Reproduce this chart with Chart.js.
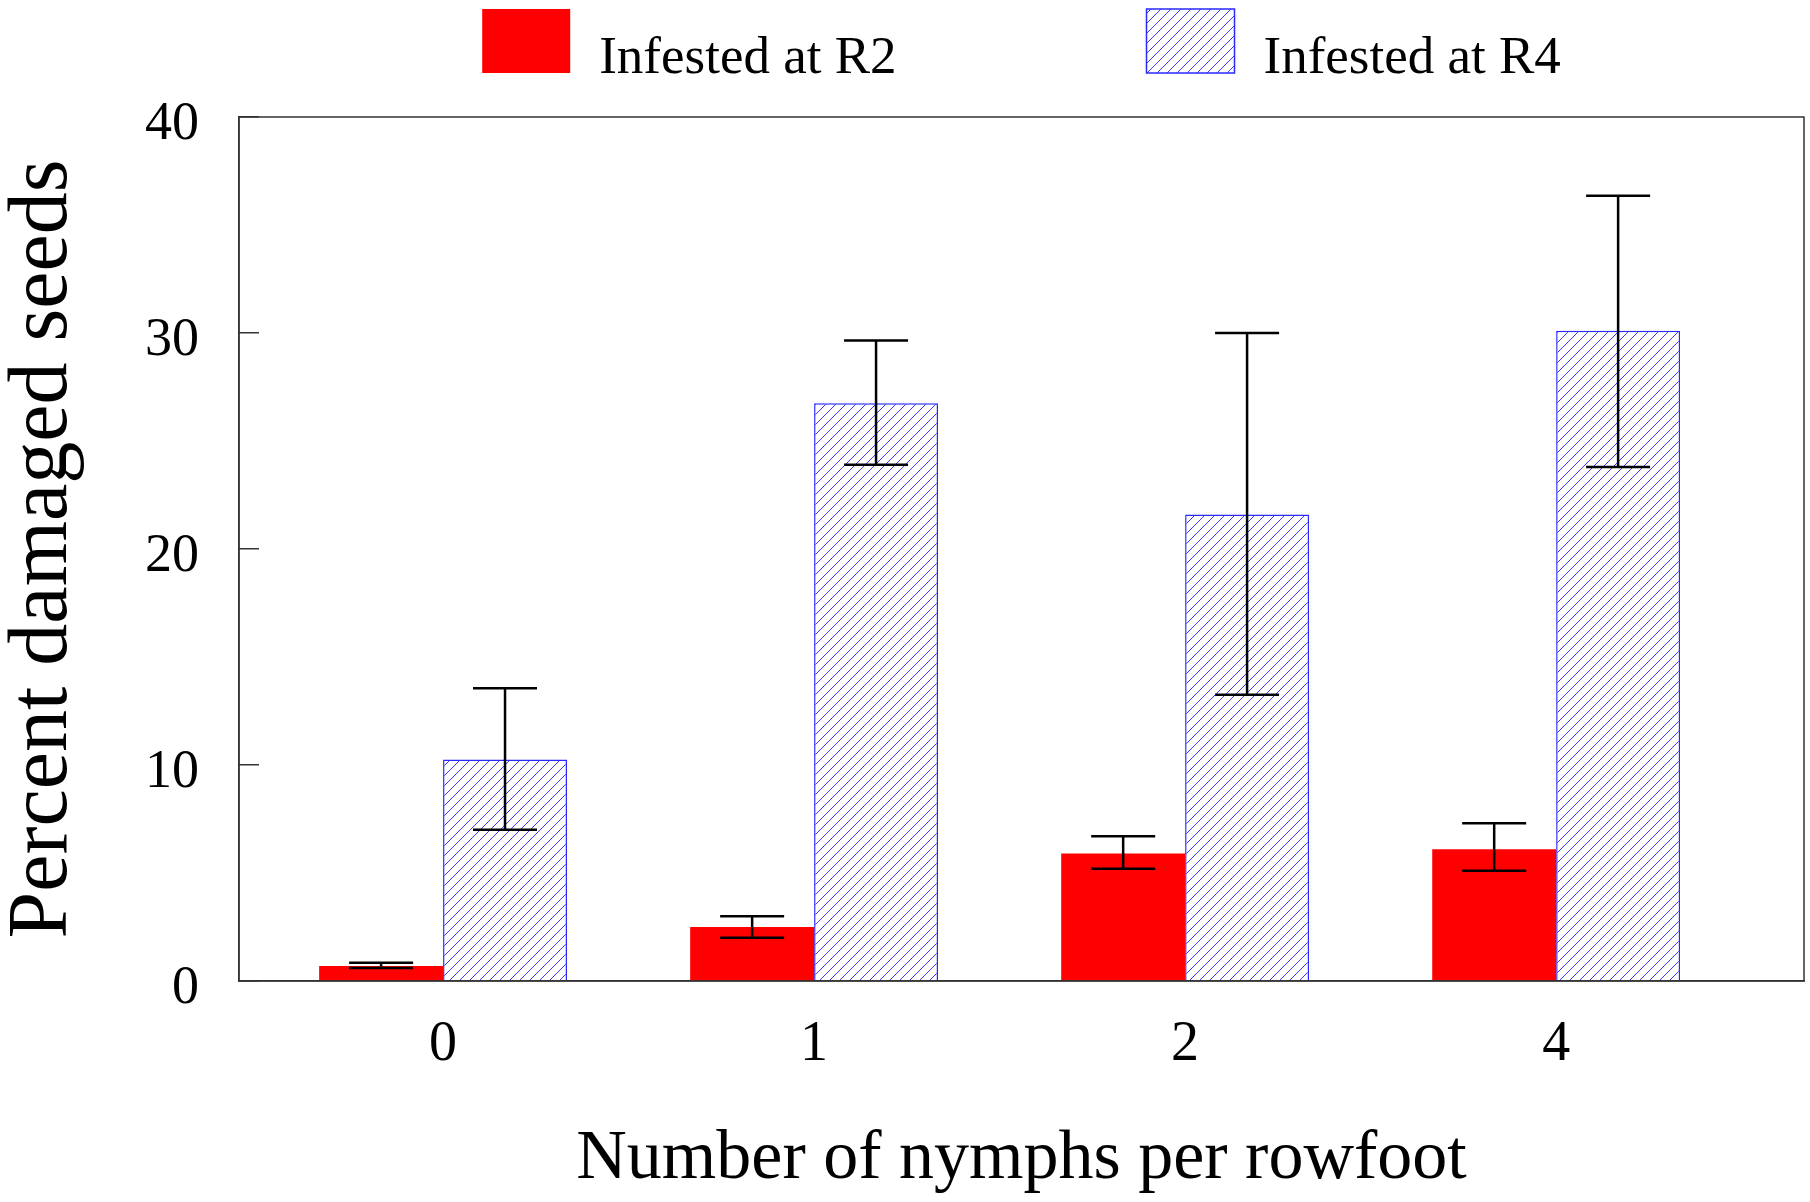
<!DOCTYPE html>
<html>
<head>
<meta charset="utf-8">
<script src="https://cdn.jsdelivr.net/npm/chart.js@4.4.1/dist/chart.umd.min.js"></script>
<style>
  html, body { margin: 0; padding: 0; background: #fff; }
  canvas { display: block; }
</style>
</head>
<body>
<canvas id="chart" width="1810" height="1202" style="width:1810px;height:1202px"></canvas>
<script>
const categories = ['0', '1', '2', '4'];
const r2Values = [0.7, 2.5, 5.9, 6.1];
const r2Low = [0.6, 2.0, 5.2, 5.1];
const r2High = [0.85, 3.0, 6.7, 7.3];
const r4Values = [10.25, 26.75, 21.6, 30.1];
const r4Low = [7.0, 23.9, 13.25, 23.8];
const r4High = [13.55, 29.65, 30.0, 36.35];
const yTicks = [0, 10, 20, 30, 40];

const serif = '"Liberation Serif", "Times New Roman", serif';
const axisColor = '#333';

function makeHatch(color) {
  const c = document.createElement('canvas');
  c.width = 10; c.height = 10;
  const g = c.getContext('2d');
  g.fillStyle = '#fff';
  g.fillRect(0, 0, 10, 10);
  g.strokeStyle = color;
  g.lineWidth = 1;
  g.beginPath();
  g.moveTo(0, 10); g.lineTo(10, 0);
  g.moveTo(-1, 1); g.lineTo(1, -1);
  g.moveTo(9, 11); g.lineTo(11, 9);
  g.stroke();
  return g.createPattern(c, 'repeat');
}

const errors = [[r2Low, r2High], [r4Low, r4High]];

const errorBars = {
  id: 'errorBars',
  afterDatasetsDraw(chart) {
    const { ctx } = chart;
    const y = chart.scales.y;
    ctx.save();
    ctx.strokeStyle = '#000';
    ctx.lineWidth = 2.5;
    errors.forEach(([low, high], d) => {
      chart.getDatasetMeta(d).data.forEach((bar, i) => {
        const top = y.getPixelForValue(high[i]);
        const bot = y.getPixelForValue(low[i]);
        ctx.beginPath();
        ctx.moveTo(bar.x, top); ctx.lineTo(bar.x, bot);
        ctx.moveTo(bar.x - 32, top); ctx.lineTo(bar.x + 32, top);
        ctx.moveTo(bar.x - 32, bot); ctx.lineTo(bar.x + 32, bot);
        ctx.stroke();
      });
    });
    ctx.restore();
  }
};

const frameAndLegend = {
  id: 'frameAndLegend',
  afterDraw(chart) {
    const { ctx, chartArea: a } = chart;
    ctx.save();
    ctx.strokeStyle = axisColor;
    ctx.lineWidth = 1.5;
    ctx.strokeRect(a.left, a.top, a.right - a.left, a.bottom - a.top);

    // legend across the top, centred over the plot
    ctx.font = '53px ' + serif;
    const boxW = 88, boxH = 64, textGap = 29, itemGap = 250;
    const items = chart.data.datasets.map(ds => ({
      ds, w: boxW + textGap + ctx.measureText(ds.label).width
    }));
    const total = items.reduce((s, it) => s + it.w, 0) + itemGap * (items.length - 1);
    let x = (a.left + a.right) / 2 - total / 2;
    const top = 9;
    items.forEach(({ ds, w }) => {
      ctx.fillStyle = ds.backgroundColor;
      ctx.fillRect(x, top, boxW, boxH);
      if (ds.borderWidth) {
        ctx.strokeStyle = ds.borderColor;
        ctx.lineWidth = 1.5;
        ctx.strokeRect(x, top, boxW, boxH);
      }
      ctx.fillStyle = '#000';
      ctx.textBaseline = 'alphabetic';
      ctx.textAlign = 'left';
      ctx.fillText(ds.label, x + boxW + textGap, top + boxH);
      x += w + itemGap;
    });
    ctx.restore();
  }
};

const ctx = document.getElementById('chart').getContext('2d');
const hatch = makeHatch('#3a3aff');

new Chart(ctx, {
  type: 'bar',
  data: {
    datasets: [
      {
        label: 'Infested at R2',
        data: r2Values.map((v, i) => ({ x: i, y: v })),
        backgroundColor: '#ff0000',
        borderWidth: 0
      },
      {
        label: 'Infested at R4',
        data: r4Values.map((v, i) => ({ x: i, y: v })),
        backgroundColor: hatch,
        borderColor: '#2a2aff',
        borderWidth: 1.5
      }
    ]
  },
  options: {
    responsive: false,
    animation: false,
    categoryPercentage: 0.668,
    barPercentage: 1.0,
    layout: { padding: { top: 117, right: 6, left: 0, bottom: 0 } },
    plugins: {
      legend: { display: false },
      tooltip: { enabled: false }
    },
    scales: {
      x: {
        type: 'linear',
        offset: false,
        min: -0.55,
        max: 3.668,
        afterBuildTicks: s => { s.ticks = categories.map((c, i) => ({ value: i })); },
        afterFit: s => { s.height = 221; },
        grid: { display: false, drawTicks: false, offset: false },
        border: { display: true, color: axisColor, width: 1.5 },
        ticks: {
          callback: v => categories[v],
          font: { family: serif, size: 56 },
          color: '#000',
          padding: 31,
          maxRotation: 0
        },
        title: {
          display: true,
          text: 'Number of nymphs per rowfoot',
          font: { family: serif, size: 70, lineHeight: 1.2 },
          color: '#000',
          padding: { top: 0, bottom: 0 }
        }
      },
      y: {
        min: 0,
        max: 40,
        afterBuildTicks: s => { s.ticks = yTicks.map(v => ({ value: v })); },
        afterFit: s => { s.width = 239; },
        grid: {
          display: true,
          drawOnChartArea: false,
          drawTicks: true,
          tickLength: -20,
          color: axisColor,
          lineWidth: 1.5
        },
        border: { display: true, color: axisColor, width: 1.5 },
        ticks: {
          font: { family: serif, size: 54 },
          color: '#000',
          padding: 60,
          labelOffset: 8
        },
        title: {
          display: true,
          text: 'Percent damaged seeds',
          font: { family: serif, size: 84, lineHeight: 1.0 },
          color: '#000',
          padding: { top: 2, bottom: 0 }
        }
      }
    }
  },
  plugins: [errorBars, frameAndLegend]
});
</script>
</body>
</html>
